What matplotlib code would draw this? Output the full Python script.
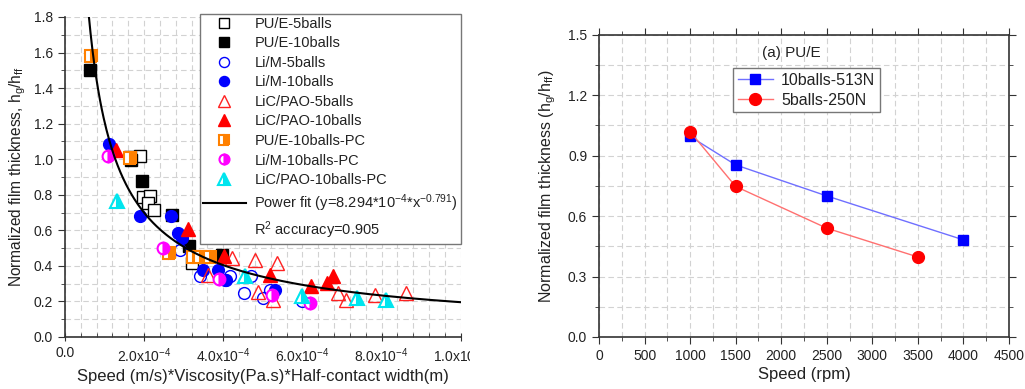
import numpy as np
import matplotlib
matplotlib.use("Agg")
import matplotlib.pyplot as plt
from matplotlib.ticker import MultipleLocator, FuncFormatter
from matplotlib.transforms import Bbox

plt.rcParams['font.family'] = ['Liberation Sans', 'DejaVu Sans']
plt.rcParams['mathtext.fontset'] = 'custom'
plt.rcParams['mathtext.rm'] = 'Liberation Sans'
plt.rcParams['mathtext.it'] = 'Liberation Sans'
TXT = '#222222'

# ---- left panel data (x in units of 1e-4) ----
pue5_x = [1.89, 1.64, 1.98, 2.16, 2.10, 2.25, 3.20]
pue5_y = [1.02, 1.01, 0.79, 0.795, 0.754, 0.713, 0.416]
pue10_x = [0.63, 1.68, 1.94, 2.71, 3.13, 3.96]
pue10_y = [1.504, 0.998, 0.876, 0.688, 0.51, 0.463]
lim5_x = [2.90, 3.41, 4.04, 4.17, 4.71, 4.53, 5.01, 5.18, 6.00]
lim5_y = [0.49, 0.341, 0.323, 0.341, 0.345, 0.248, 0.219, 0.266, 0.20]
lim10_x = [1.12, 1.89, 2.69, 2.86, 2.95, 3.49, 3.87, 4.08, 5.30]
lim10_y = [1.088, 0.679, 0.679, 0.585, 0.557, 0.379, 0.379, 0.323, 0.266]
licp5_x = [3.62, 4.21, 4.80, 5.35, 4.88, 5.26, 6.90, 7.11, 7.83, 8.63]
licp5_y = [0.351, 0.444, 0.435, 0.416, 0.251, 0.21, 0.247, 0.21, 0.238, 0.247]
licp10_x = [1.30, 3.11, 4.02, 5.18, 6.23, 6.61, 6.78]
licp10_y = [1.05, 0.607, 0.454, 0.351, 0.285, 0.304, 0.341]
puepc_x = [0.67, 1.64, 2.63, 3.24, 3.41, 3.66]
puepc_y = [1.58, 1.007, 0.473, 0.448, 0.448, 0.448]
limpc_x = [1.09, 2.47, 3.90, 5.22, 6.19]
limpc_y = [1.016, 0.50, 0.326, 0.238, 0.191]
licppc_x = [1.32, 4.55, 6.00, 7.37, 8.12]
licppc_y = [0.763, 0.341, 0.232, 0.219, 0.21]

fit_a = 8.294e-4
fit_b = -0.791

# ---- right panel data ----
speed_10 = [1000, 1500, 2500, 4000]
h_10 = [0.995, 0.854, 0.70, 0.482]
speed_5 = [1000, 1500, 2500, 3500]
h_5 = [1.019, 0.747, 0.54, 0.397]

fig = plt.figure(figsize=(10.25, 3.89), dpi=100)
ax1 = fig.add_axes([0.0634, 0.1337, 0.386, 0.8226])
ax2 = fig.add_axes([0.5844, 0.1337, 0.400, 0.777])

grid_kw = dict(color='#d2d2d2', linestyle=(0, (5, 3)), linewidth=0.8)

# left panel
ms = 8.5
e = 1e-4
ax1.plot(np.array(pue5_x) * e, pue5_y, 's', ms=ms, mfc='white', mec='black', mew=1, label='PU/E-5balls', zorder=3)
ax1.plot(np.array(pue10_x) * e, pue10_y, 's', ms=ms, mfc='black', mec='black', label='PU/E-10balls', zorder=3)
ax1.plot(np.array(lim5_x) * e, lim5_y, 'o', ms=ms, mfc='none', mec='#0000ff', mew=1, label='Li/M-5balls', zorder=3)
ax1.plot(np.array(lim10_x) * e, lim10_y, 'o', ms=ms, mfc='#0000ff', mec='#0000ff', label='Li/M-10balls', zorder=3)
ax1.plot(np.array(licp5_x) * e, licp5_y, '^', ms=ms + 1, mfc='none', mec='#ff2020', mew=1, label='LiC/PAO-5balls', zorder=3)
ax1.plot(np.array(licp10_x) * e, licp10_y, '^', ms=ms + 1, mfc='#ff0000', mec='#ff0000', label='LiC/PAO-10balls', zorder=3)
ax1.plot(np.array(puepc_x) * e, puepc_y, 's', ms=ms, fillstyle='right', mfc='#ff8000', mfcalt='white',
         mec='#ff8000', mew=1.5, label='PU/E-10balls-PC', zorder=3)
ax1.plot(np.array(limpc_x) * e, limpc_y, 'o', ms=ms, fillstyle='right', mfc='#ff00ff', mfcalt='white',
         mec='#ff00ff', mew=1.5, label='Li/M-10balls-PC', zorder=3)
ax1.plot(np.array(licppc_x) * e, licppc_y, '^', ms=ms + 1, fillstyle='right', mfc='#00e5ee', mfcalt='white',
         mec='#00e5ee', mew=1.5, label='LiC/PAO-10balls-PC', zorder=3)

xs = np.linspace(0.6e-4, 1e-3, 400)
ax1.plot(xs, fit_a * xs ** fit_b, color='black', lw=1.5,
         label=r'Power fit (y=8.294*10$^{-4}$*x$^{-0.791}$)', zorder=4)
ax1.plot([], [], ' ', label=r'R$^2$ accuracy=0.905')

ax1.set_xlim(0, 1e-3)
ax1.set_ylim(0, 1.8)
ax1.xaxis.set_major_locator(MultipleLocator(2e-4))
ax1.xaxis.set_minor_locator(MultipleLocator(0.4e-4))
ax1.yaxis.set_major_locator(MultipleLocator(0.2))
ax1.yaxis.set_minor_locator(MultipleLocator(0.1))


def sci(v, pos):
    if abs(v) < 1e-12:
        return '0.0'
    exp = int(np.floor(np.log10(abs(v)) + 1e-9))
    mant = v / 10 ** exp
    return r'%.1fx10$^{%d}$' % (mant, exp)


def sci_left(v, pos):
    # last label is drawn separately (cut at the panel edge like the source)
    if v > 0.99e-3:
        return ''
    return sci(v, pos)


ax1.xaxis.set_major_formatter(FuncFormatter(sci_left))
ax1.yaxis.set_major_formatter(FuncFormatter(lambda v, p: '%.1f' % v))
ax1.grid(True, which='both', **grid_kw)
ax1.set_axisbelow(True)
for s in ['top', 'right']:
    ax1.spines[s].set_visible(False)
for s in ['left', 'bottom']:
    ax1.spines[s].set_color('#333333')
    ax1.spines[s].set_linewidth(1.2)
ax1.tick_params(which='both', colors='#333333', labelcolor=TXT, labelsize=10)
ax1.tick_params(axis='x', which='major', direction='inout', length=6)
ax1.tick_params(axis='x', which='minor', direction='in', length=3)
ax1.tick_params(axis='y', which='major', direction='out', length=5)
ax1.tick_params(axis='y', which='minor', direction='out', length=3)
ax1.set_xlabel('Speed (m/s)*Viscosity(Pa.s)*Half-contact width(m)', fontsize=12, color=TXT, labelpad=3)
ax1.set_ylabel(r'Normalized film thickness, h$_g$/h$_{ff}$', fontsize=11.2, color=TXT, labelpad=4)

last = ax1.annotate(sci(1e-3, 0), xy=(1e-3, 0), xycoords=('data', 'axes fraction'),
                    xytext=(0, -6.5), textcoords='offset points', ha='center', va='top',
                    fontsize=10, color=TXT, annotation_clip=False)
last.set_clip_box(Bbox.from_extents(0, 0, 470, 389))
last.set_clip_on(True)

leg1 = ax1.legend(loc='upper left', bbox_to_anchor=(0.342, 1.01), fontsize=10.5, frameon=True,
                  fancybox=False, edgecolor='#777777', framealpha=1, handlelength=2.9,
                  handletextpad=0.6, labelspacing=0.38, borderpad=0.2, borderaxespad=0,
                  markerscale=0.85)
leg1.get_frame().set_linewidth(1.0)
for t in leg1.get_texts():
    t.set_color(TXT)

# right panel
ax2.plot(speed_10, h_10, '-s', color='#6f6fff', lw=1, ms=7.5, mfc='#0000ff', mec='#0000ff',
         label='10balls-513N', zorder=3)
ax2.plot(speed_5, h_5, '-o', color='#ff7070', lw=1, ms=8.5, mfc='#ff0000', mec='#ff0000',
         label='5balls-250N', zorder=3)
ax2.set_xlim(0, 4500)
ax2.set_ylim(0, 1.5)
ax2.xaxis.set_major_locator(MultipleLocator(500))
ax2.xaxis.set_minor_locator(MultipleLocator(250))
ax2.yaxis.set_major_locator(MultipleLocator(0.3))
ax2.yaxis.set_minor_locator(MultipleLocator(0.15))
ax2.yaxis.set_major_formatter(FuncFormatter(lambda v, p: '%.1f' % v))
ax2.grid(True, which='both', **grid_kw)
ax2.set_axisbelow(True)
for s in ax2.spines.values():
    s.set_color('#333333')
    s.set_linewidth(1.2)
ax2.tick_params(which='both', colors='#333333', labelcolor=TXT, labelsize=10, top=True, right=True)
ax2.tick_params(which='major', direction='out', length=5)
ax2.tick_params(which='minor', direction='out', length=3)
ax2.tick_params(axis='both', which='both', labeltop=False, labelright=False)
ax2.set_xlabel('Speed (rpm)', fontsize=12, color=TXT, labelpad=3)
ax2.set_ylabel(r'Normalized film thickness (h$_g$/h$_{ff}$)', fontsize=11.5, color=TXT, labelpad=7)
ax2.text(0.398, 0.94, '(a) PU/E', transform=ax2.transAxes, fontsize=11, color=TXT, va='center')
leg2 = ax2.legend(loc='upper left', bbox_to_anchor=(0.327, 0.89), fontsize=11.5, frameon=True,
                  fancybox=False, edgecolor='#777777', framealpha=1, handlelength=2.2,
                  handletextpad=0.5, labelspacing=0.3, borderpad=0.3, borderaxespad=0)
for t in leg2.get_texts():
    t.set_color(TXT)

fig.savefig('out.png', dpi=100)
